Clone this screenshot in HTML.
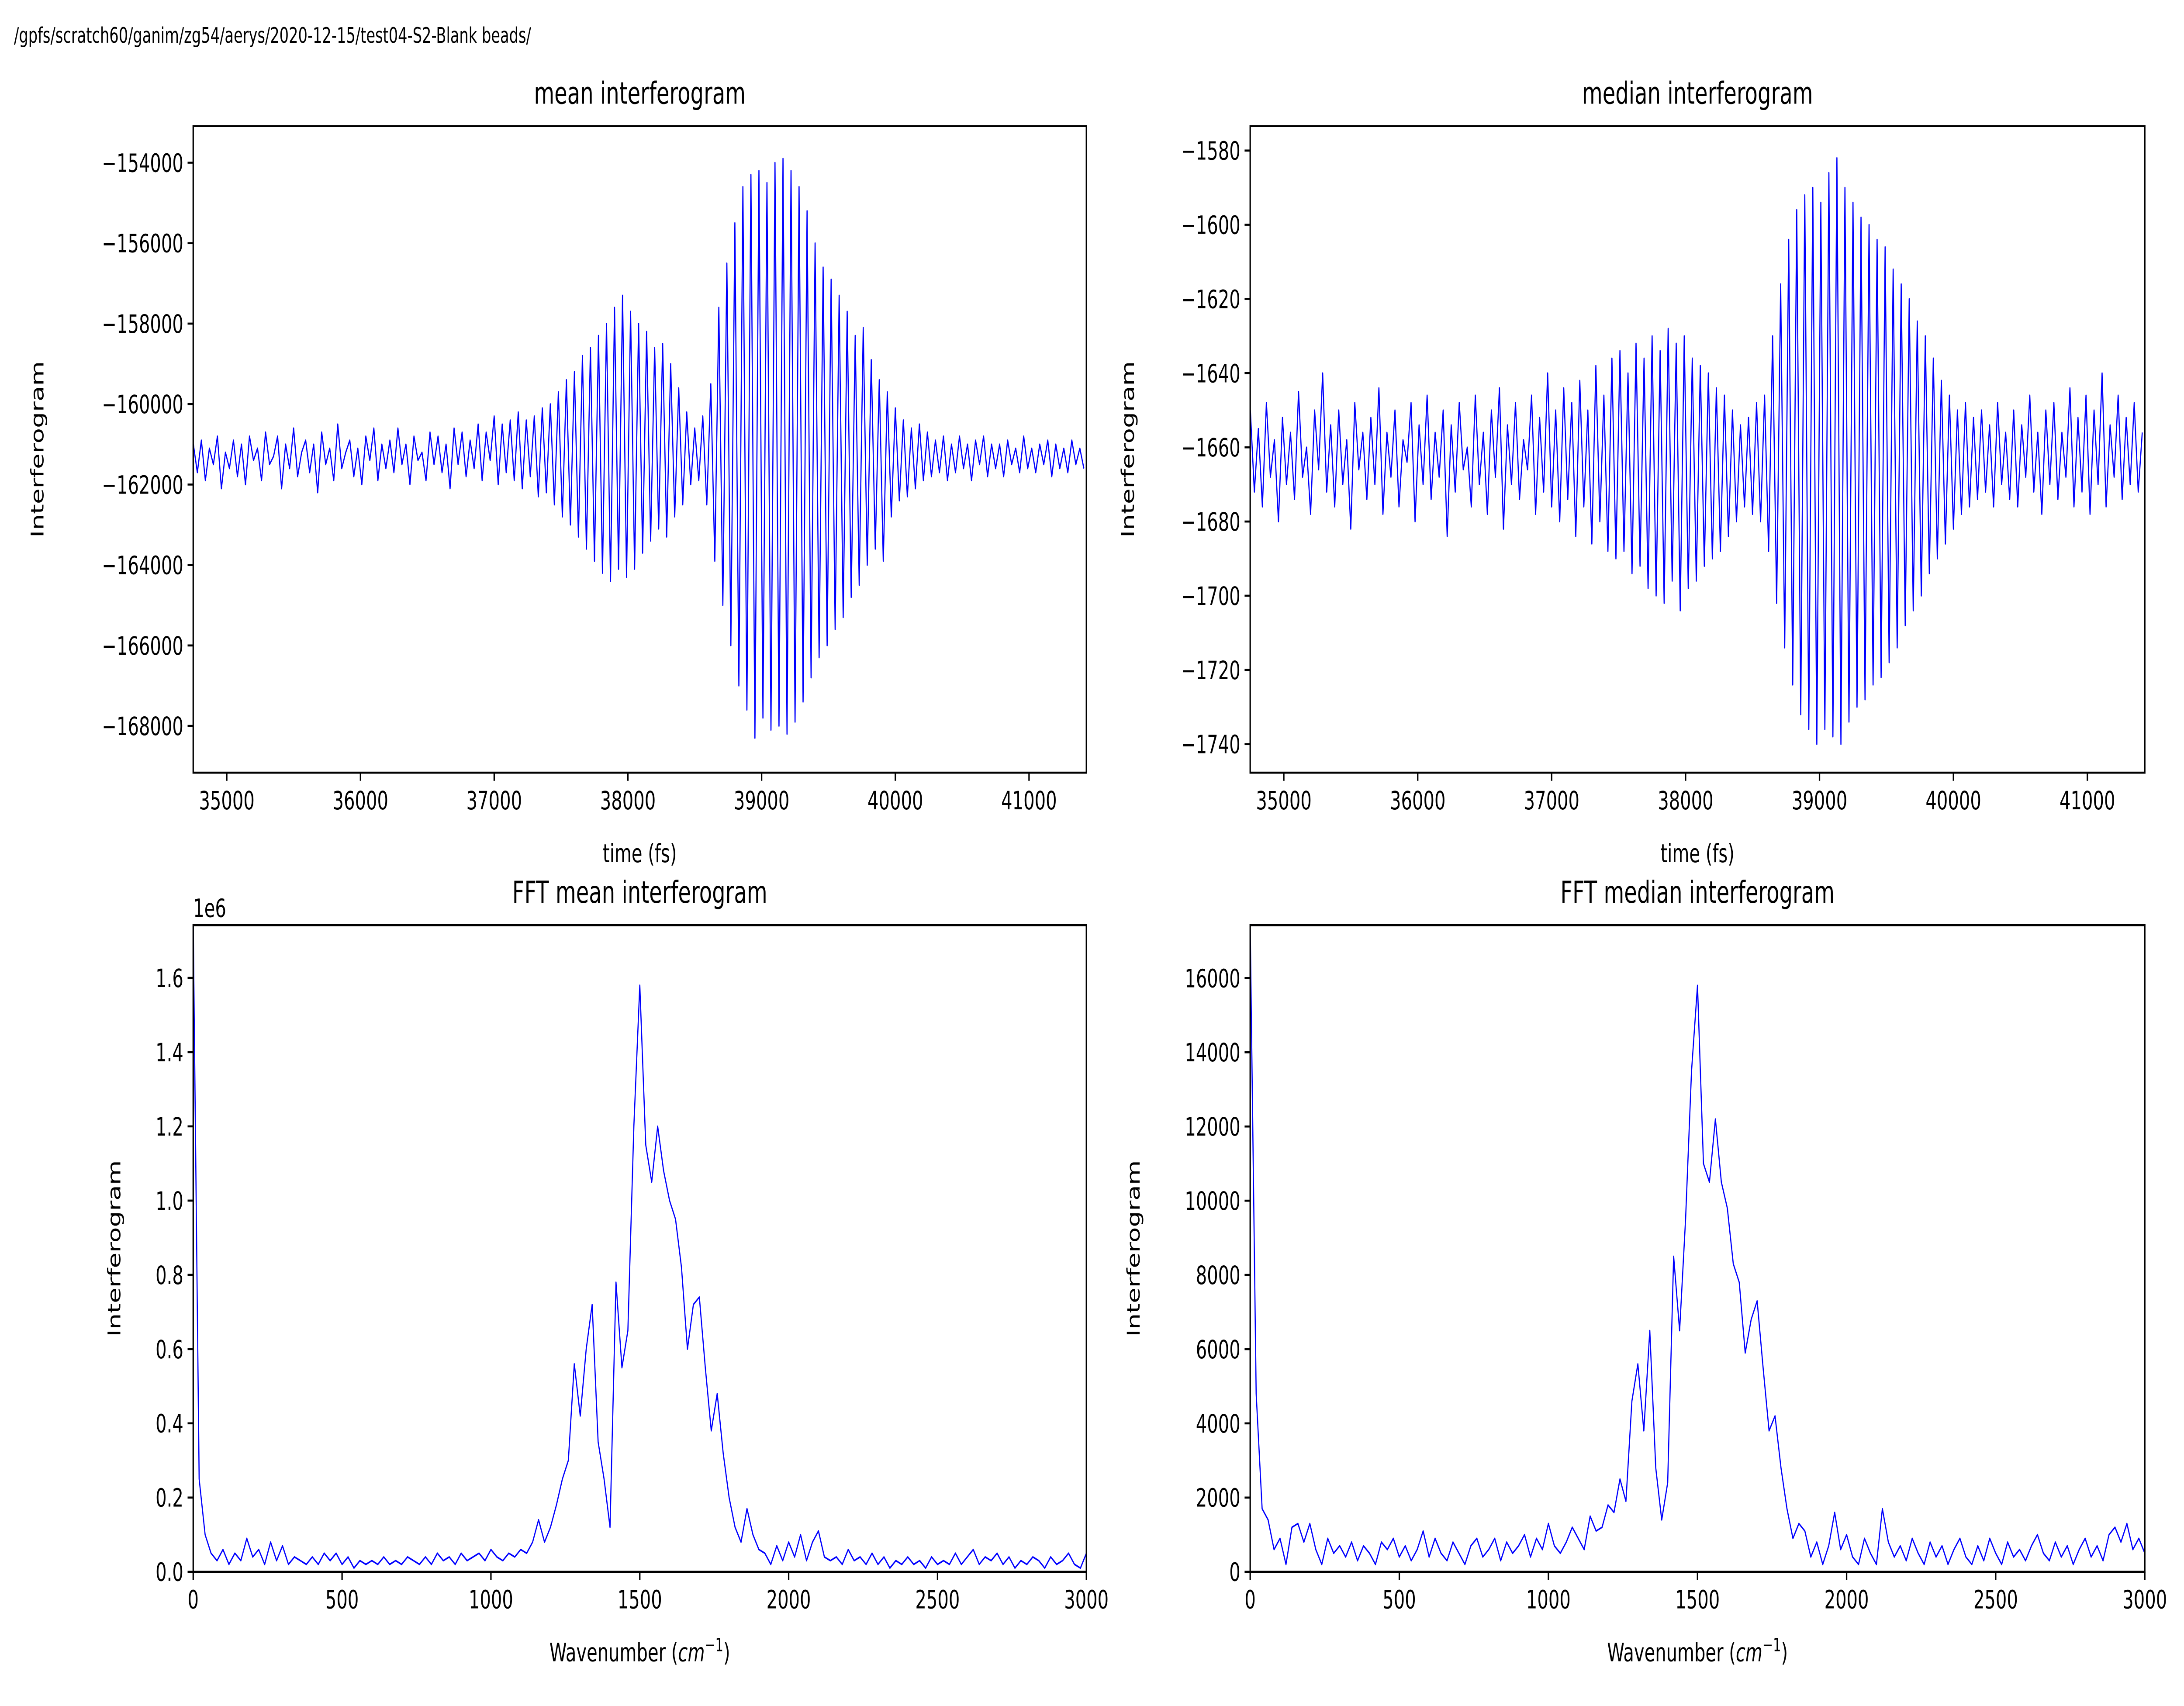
<!DOCTYPE html>
<html><head><meta charset="utf-8">
<style>
html,body{margin:0;padding:0;background:#fff;width:100%;height:100%;overflow:hidden;}
svg{display:block;position:absolute;left:0;top:0;width:100vw;height:100vh;}
text{font-family:"DejaVu Sans","Liberation Sans",sans-serif;fill:#000;}
</style></head>
<body>
<svg id="fig" viewBox="0 0 1560 839" preserveAspectRatio="none" xmlns="http://www.w3.org/2000/svg">
<rect x="0" y="0" width="1560" height="839" fill="#fff"/>
<text x="10" y="21" font-size="10.5">/gpfs/scratch60/ganim/zg54/aerys/2020-12-15/test04-S2-Blank beads/</text>
</svg>
<script>
// ---- data ----
const timeStart = 34750;
const timeStep = 30;
const meanValues = [
-161000,-161700,-160900,-161900,-161100,-161500,-160800,-162100,-161200,-161600,
-160900,-161800,-161000,-162000,-160800,-161400,-161100,-161900,-160700,-161500,
-161300,-160800,-162100,-161000,-161600,-160600,-161800,-161200,-160900,-161700,
-161000,-162200,-160700,-161500,-161100,-161900,-160500,-161600,-161200,-160900,
-161800,-161100,-162000,-160800,-161400,-160600,-161900,-161000,-161600,-160900,
-161700,-160600,-161500,-161000,-162000,-160800,-161400,-161200,-161900,-160700,
-161500,-160800,-161700,-161000,-162100,-160600,-161500,-160700,-161800,-160900,
-161600,-160500,-161900,-160700,-161400,-160300,-162000,-160500,-161700,-160400,
-161900,-160200,-162100,-160400,-161800,-160300,-162300,-160100,-162200,-160000,
-162500,-159700,-162800,-159400,-163000,-159200,-163300,-158800,-163600,-158600,
-163900,-158300,-164200,-158000,-164400,-157600,-164100,-157300,-164300,-157700,
-164100,-158000,-163700,-158200,-163400,-158600,-163100,-158500,-163300,-159000,
-162800,-159600,-162500,-160200,-162000,-160600,-161900,-160300,-162500,-159500,
-163900,-157600,-165000,-156500,-166000,-155500,-167000,-154600,-167600,-154300,
-168300,-154200,-167800,-154500,-168100,-154000,-168000,-153900,-168200,-154200,
-167900,-154600,-167400,-155200,-166800,-156000,-166300,-156600,-166000,-156900,
-165600,-157300,-165300,-157700,-164800,-158300,-164500,-158100,-164000,-158900,
-163600,-159400,-163900,-159700,-162800,-160100,-162400,-160400,-162300,-160600,
-162100,-160500,-161900,-160700,-161800,-160900,-161700,-160800,-161900,-161000,
-161700,-160800,-161600,-161000,-161900,-160900,-161500,-160800,-161800,-161000,
-161600,-161000,-161800,-160900,-161500,-161100,-161700,-160800,-161600,-161100,
-161700,-161000,-161500,-160900,-161800,-161000,-161600,-161100,-161700,-160900,
-161500,-161100,-161600];
const medianValues = [
-1650,-1672,-1655,-1676,-1648,-1668,-1658,-1680,-1652,-1670,
-1656,-1674,-1645,-1668,-1660,-1678,-1650,-1666,-1640,-1672,
-1654,-1676,-1650,-1670,-1658,-1682,-1648,-1666,-1656,-1674,
-1652,-1670,-1644,-1678,-1656,-1668,-1650,-1676,-1658,-1664,
-1648,-1680,-1654,-1670,-1646,-1674,-1656,-1668,-1650,-1684,
-1654,-1672,-1648,-1666,-1660,-1676,-1646,-1670,-1656,-1678,
-1650,-1668,-1644,-1682,-1654,-1670,-1648,-1674,-1658,-1666,
-1646,-1678,-1652,-1672,-1640,-1676,-1650,-1680,-1644,-1674,
-1648,-1684,-1642,-1676,-1650,-1686,-1638,-1680,-1646,-1688,
-1636,-1690,-1634,-1688,-1640,-1694,-1632,-1692,-1636,-1698,
-1630,-1700,-1634,-1702,-1628,-1696,-1632,-1704,-1630,-1698,
-1636,-1696,-1638,-1692,-1640,-1690,-1644,-1688,-1646,-1684,
-1650,-1680,-1654,-1676,-1652,-1678,-1648,-1680,-1646,-1688,
-1630,-1702,-1616,-1714,-1604,-1724,-1596,-1732,-1592,-1736,
-1590,-1740,-1594,-1736,-1586,-1738,-1582,-1740,-1590,-1734,
-1594,-1730,-1598,-1728,-1600,-1724,-1604,-1722,-1606,-1718,
-1612,-1714,-1616,-1708,-1620,-1704,-1626,-1700,-1630,-1694,
-1636,-1690,-1642,-1686,-1646,-1682,-1650,-1678,-1648,-1676,
-1652,-1674,-1650,-1672,-1654,-1676,-1648,-1670,-1656,-1674,
-1650,-1676,-1654,-1668,-1646,-1672,-1656,-1678,-1650,-1670,
-1648,-1674,-1656,-1668,-1644,-1676,-1652,-1672,-1646,-1678,
-1650,-1670,-1640,-1676,-1654,-1668,-1646,-1674,-1652,-1670,
-1648,-1672,-1656];
const waveStep = 20;
const fftMeanValues = [ // units of 1e6
1.75,0.25,0.1,0.05,0.03,0.06,0.02,0.05,0.03,0.09,
0.04,0.06,0.02,0.08,0.03,0.07,0.02,0.04,0.03,0.02,
0.04,0.02,0.05,0.03,0.05,0.02,0.04,0.01,0.03,0.02,
0.03,0.02,0.04,0.02,0.03,0.02,0.04,0.03,0.02,0.04,
0.02,0.05,0.03,0.04,0.02,0.05,0.03,0.04,0.05,0.03,
0.06,0.04,0.03,0.05,0.04,0.06,0.05,0.08,0.14,0.08,
0.12,0.18,0.25,0.3,0.56,0.42,0.6,0.72,0.35,0.25,
0.12,0.78,0.55,0.65,1.2,1.58,1.15,1.05,1.2,1.08,
1.0,0.95,0.82,0.6,0.72,0.74,0.55,0.38,0.48,0.32,
0.2,0.12,0.08,0.17,0.1,0.06,0.05,0.02,0.07,0.03,
0.08,0.04,0.1,0.03,0.08,0.11,0.04,0.03,0.04,0.02,
0.06,0.03,0.04,0.02,0.05,0.02,0.04,0.01,0.03,0.02,
0.04,0.02,0.03,0.01,0.04,0.02,0.03,0.02,0.05,0.02,
0.04,0.06,0.02,0.04,0.03,0.05,0.02,0.04,0.01,0.03,
0.02,0.04,0.03,0.01,0.04,0.02,0.03,0.05,0.02,0.01,0.05];
const fftMedianValues = [
17400,4800,1700,1400,600,900,200,1200,1300,800,
1300,600,200,900,500,700,400,800,300,700,
500,200,800,600,900,400,700,300,600,1100,
400,900,500,300,800,500,200,700,900,400,
600,900,300,800,500,700,1000,400,900,600,
1300,700,500,800,1200,900,600,1500,1100,1200,
1800,1600,2500,1900,4600,5600,3800,6500,2800,1400,
2400,8500,6500,9500,13500,15800,11000,10500,12200,10500,
9800,8300,7800,5900,6800,7300,5500,3800,4200,2800,
1700,900,1300,1100,400,800,200,700,1600,600,
1000,400,200,900,500,200,1700,800,400,700,
300,900,500,200,800,400,700,200,600,900,
400,200,700,300,900,500,200,800,400,600,
300,700,1000,500,300,800,400,700,200,600,
900,400,700,300,1000,1200,800,1300,600,900,500];
const timeTicks = [35000,36000,37000,38000,39000,40000,41000];
const meanTicks = [-154000,-156000,-158000,-160000,-162000,-164000,-166000,-168000];
const medianTicks = [-1580,-1600,-1620,-1640,-1660,-1680,-1700,-1720,-1740];
const waveTicks = [0,500,1000,1500,2000,2500,3000];
const fftMeanTicks = [0.0,0.2,0.4,0.6,0.8,1.0,1.2,1.4,1.6];
const fftMedianTicks = [0,2000,4000,6000,8000,10000,12000,14000,16000];

const NS = "http://www.w3.org/2000/svg";
const fig = document.getElementById('fig');
function mk(tag, attrs, parent){const e=document.createElementNS(NS,tag);for(const k in attrs)e.setAttribute(k,attrs[k]);(parent||fig).appendChild(e);return e;}
let clipId=0;
function panel(opt){
  const {name,x0,x1,y0,y1,xmin,xmax,ymin,ymax,xs,ys,xticks,yticks,fmtY,title,xlabel,ylabelX,offsetLabel} = opt;
  const g = mk('g',{});
  
  
  const sx = v => x0 + (v - xmin) / (xmax - xmin) * (x1 - x0);
  const sy = v => y1 - (v - ymin) / (ymax - ymin) * (y1 - y0);
  const id = 'clip' + (clipId++);
  const cp = mk('clipPath',{id:id},g);
  mk('rect',{x:x0,y:y0,width:x1-x0,height:y1-y0},cp);
  let d='';
  for(let i=0;i<ys.length;i++){d += (i?'L':'M') + sx(xs[i]).toFixed(2) + ' ' + sy(ys[i]).toFixed(2);}
  const line = mk('path',{d:d,fill:'none',stroke:'#0000ff','stroke-width':0.8,'stroke-linejoin':'round','clip-path':'url(#'+id+')'},g);
  
  
  const frame = mk('rect',{x:x0,y:y0,width:x1-x0,height:y1-y0,fill:'none',stroke:'#000','stroke-width':1},g);
  
  
  xticks.forEach(t=>{
    const X=sx(t);
    mk('line',{x1:X,x2:X,y1:y1,y2:y1+4,stroke:'#000','stroke-width':1},g);
    const tx = mk('text',{x:X,y:y1+18,'font-size':12.5,'text-anchor':'middle'},g);
    tx.textContent = String(t);
    
    
  });
  yticks.forEach(t=>{
    const Y=sy(t);
    mk('line',{x1:x0-4,x2:x0,y1:Y,y2:Y,stroke:'#000','stroke-width':1},g);
    const ty = mk('text',{x:x0-7,y:Y+4.5,'font-size':12.5,'text-anchor':'end'},g);
    ty.textContent = fmtY(t);
    
    
  });
  const tt = mk('text',{x:(x0+x1)/2,y:y0-11,'font-size':15,'text-anchor':'middle'},g);
  tt.textContent = title;
  
  
  const xl = mk('text',{x:(x0+x1)/2,y:y1+44,'font-size':12.5,'text-anchor':'middle'},g);
  if(xlabel==='wave'){
    xl.innerHTML = 'Wavenumber (<tspan font-style="italic">cm</tspan><tspan dy="-5" font-size="9">−1</tspan><tspan dy="5">)</tspan>';
  } else { xl.textContent = xlabel; }
  
  
  const yl = mk('text',{x:ylabelX,y:(y0+y1)/2,'font-size':12.5,'text-anchor':'middle',transform:'rotate(-90 '+ylabelX+' '+((y0+y1)/2)+')'},g);
  yl.textContent = 'Interferogram';
  
  
  if(offsetLabel){
    const ol = mk('text',{x:x0,y:y0-4,'font-size':12.5},g);
    ol.textContent = offsetLabel;
    
    
  }
}
const minus = s => s.replace('-', '\u2212');
const timeX = meanValues.map((_,i)=>timeStart + i*timeStep);
const waveX = fftMeanValues.map((_,i)=>i*waveStep);

panel({name:'mean-interferogram-panel',x0:138,x1:776,y0:62,y1:380,xmin:34749,xmax:41429,ymin:-169162,ymax:-153090,
  xs:timeX,ys:meanValues,xticks:timeTicks,yticks:meanTicks,fmtY:t=>minus(String(t)),title:'mean interferogram',xlabel:'time (fs)',ylabelX:31});
panel({name:'median-interferogram-panel',x0:893,x1:1532,y0:62,y1:380,xmin:34749,xmax:41429,ymin:-1747.7,ymax:-1573.4,
  xs:timeX,ys:medianValues,xticks:timeTicks,yticks:medianTicks,fmtY:t=>minus(String(t)),title:'median interferogram',xlabel:'time (fs)',ylabelX:810});
panel({name:'fft-mean-panel',x0:138,x1:776,y0:455,y1:773,xmin:0,xmax:3000,ymin:0,ymax:1.742,
  xs:waveX,ys:fftMeanValues,xticks:waveTicks,yticks:fftMeanTicks,fmtY:t=>t.toFixed(1),title:'FFT mean interferogram',xlabel:'wave',ylabelX:86,offsetLabel:'1e6'});
panel({name:'fft-median-panel',x0:893,x1:1532,y0:455,y1:773,xmin:0,xmax:3000,ymin:0,ymax:17425,
  xs:waveX,ys:fftMedianValues,xticks:waveTicks,yticks:fftMedianTicks,fmtY:t=>String(t),title:'FFT median interferogram',xlabel:'wave',ylabelX:814});
</script>
</body></html>
